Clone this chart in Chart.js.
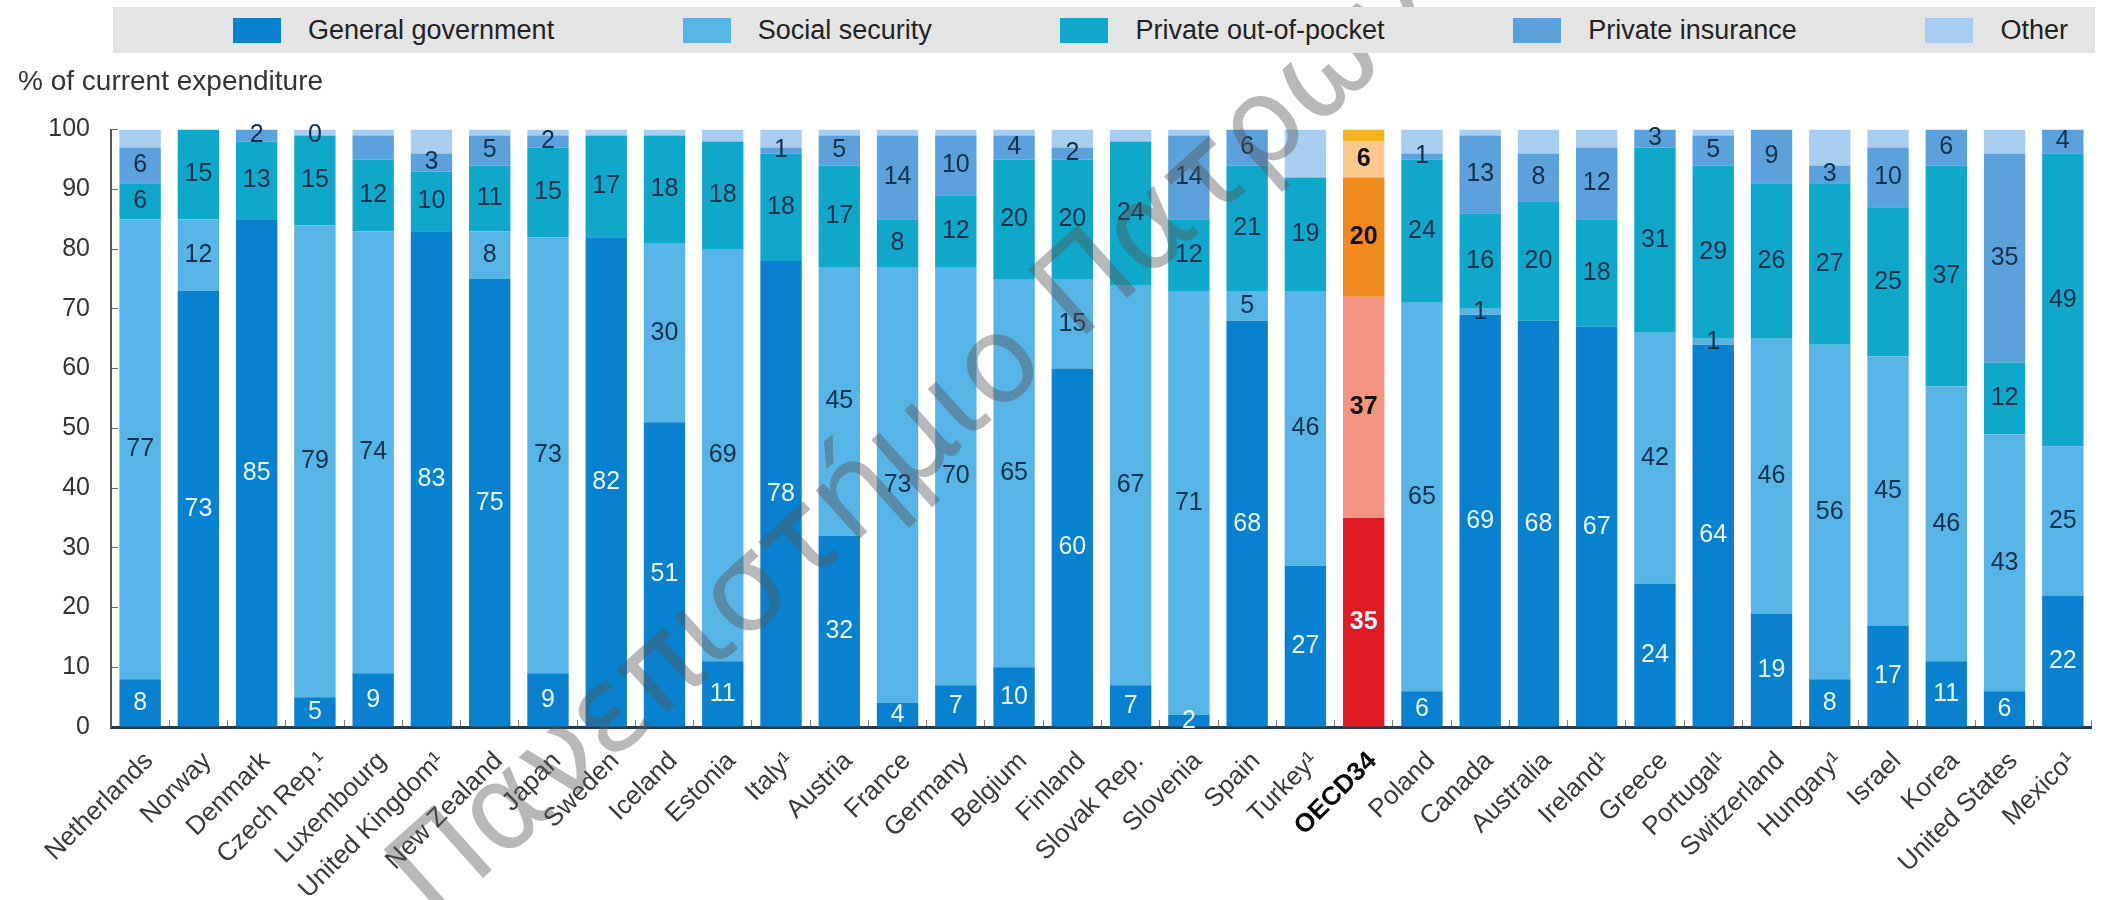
<!DOCTYPE html>
<html>
<head>
<meta charset="utf-8">
<script src="https://cdn.jsdelivr.net/npm/chart.js@4/dist/chart.umd.min.js"></script>
<style>
  body { margin: 0; background: #fff; }
  #wrap { position: relative; width: 2111px; height: 900px; }
  #legend {
    position: absolute; left: 113px; top: 7px; width: 1982px; height: 46px;
    box-sizing: border-box; padding: 0 27px 0 120px;
    background: #e4e4e4;
    display: flex; align-items: center; justify-content: space-between;
    font: 27px "Liberation Sans", Arial, sans-serif; color: #222;
  }
  #legend .item { display: flex; align-items: center; }
  #legend .swatch { display: inline-block; width: 48px; height: 25px; margin-right: 27px; }
</style>
</head>
<body>
<div id="wrap">
  <canvas id="financeChart" width="2111" height="900"></canvas>
  <div id="legend"></div>
</div>
<script>
const countries = ['Netherlands', 'Norway', 'Denmark', 'Czech Rep.¹', 'Luxembourg', 'United Kingdom¹',
  'New Zealand', 'Japan', 'Sweden', 'Iceland', 'Estonia', 'Italy¹', 'Austria', 'France', 'Germany',
  'Belgium', 'Finland', 'Slovak Rep.', 'Slovenia', 'Spain', 'Turkey¹', 'OECD34', 'Poland', 'Canada',
  'Australia', 'Ireland¹', 'Greece', 'Portugal¹', 'Switzerland', 'Hungary¹', 'Israel', 'Korea',
  'United States', 'Mexico¹'];

const seriesNames = ['General government', 'Social security', 'Private out-of-pocket', 'Private insurance', 'Other'];

// % of current health expenditure by source (null = no segment)
const generalGov  = [8, 73, 85, 5, 9, 83, 75, 9, 82, 51, 11, 78, 32, 4, 7, 10, 60, 7, 2, 68, 27, 35, 6, 69, 68, 67, 24, 64, 19, 8, 17, 11, 6, 22];
const socialSec   = [77, 12, null, 79, 74, null, 8, 73, null, 30, 69, null, 45, 73, 70, 65, 15, 67, 71, 5, 46, 37, 65, 1, null, null, 42, 1, 46, 56, 45, 46, 43, 25];
const outOfPocket = [6, 15, 13, 15, 12, 10, 11, 15, 17, 18, 18, 18, 17, 8, 12, 20, 20, 24, 12, 21, 19, 20, 24, 16, 20, 18, 31, 29, 26, 27, 25, 37, 12, 49];
const privateIns  = [6, null, 2, 0, 4, 3, 5, 2, null, null, null, 1, 5, 14, 10, 4, 2, null, 14, 6, null, 6, 1, 13, 8, 12, 3, 5, 9, 3, 10, 6, 35, 4];
const otherSrc    = [3, null, null, 1, 1, 4, 1, 1, 1, 1, 2, 3, 1, 1, 1, 1, 3, 2, 1, null, 8, 2, 4, 1, 4, 3, null, 1, null, 6, 3, null, 4, null];

const seriesColors = ['#0a81ce', '#57b4e6', '#10a8ca', '#5ba2dc', '#a9cdef'];
const oecdColors   = ['#e11b22', '#f5957f', '#f08a1d', '#fbc98c', '#f2b51e'];

// segments that carry no value label
const unlabelled = [{ series: 3, country: 'Luxembourg' }];

const oecdIndex = countries.indexOf('OECD34');
const seriesValues = [generalGov, socialSec, outOfPocket, privateIns, otherSrc];

Chart.defaults.font.family = '"Liberation Sans", Arial, sans-serif';

const htmlLegend = {
  id: 'htmlLegend',
  afterUpdate(chart) {
    const box = document.getElementById('legend');
    box.innerHTML = '';
    chart.data.datasets.forEach((ds, i) => {
      const item = document.createElement('div');
      item.className = 'item';
      const sw = document.createElement('span');
      sw.className = 'swatch';
      sw.style.background = seriesColors[i];
      const txt = document.createElement('span');
      txt.textContent = ds.label;
      item.append(sw, txt);
      box.append(item);
    });
  }
};

const segmentLabels = {
  id: 'segmentLabels',
  afterDatasetsDraw(chart) {
    const ctx = chart.ctx;
    ctx.save();
    ctx.textAlign = 'center';
    ctx.textBaseline = 'middle';
    for (let s = 0; s < 4; s++) {
      const meta = chart.getDatasetMeta(s);
      meta.data.forEach((bar, j) => {
        const v = chart.data.datasets[s].data[j];
        if (v === null) return;
        if (unlabelled.some(u => u.series === s && u.country === countries[j])) return;
        const isOecd = j === oecdIndex;
        ctx.font = (isOecd ? 'bold ' : '') + '25px "Liberation Sans", Arial, sans-serif';
        if (s === 0) ctx.fillStyle = '#e8f6ff';
        else ctx.fillStyle = isOecd ? '#111' : '#10304d';
        ctx.fillText(String(v), bar.x, (bar.y + bar.base) / 2);
      });
    }
    ctx.restore();
  }
};

const watermark = {
  id: 'watermark',
  afterDraw(chart) {
    const ctx = chart.ctx;
    ctx.save();
    ctx.translate(915, 447);
    ctx.rotate(-42 * Math.PI / 180);
    ctx.font = '120px "DejaVu Sans", sans-serif';
    ctx.fillStyle = 'rgba(85, 85, 85, 0.42)';
    ctx.textAlign = 'center';
    ctx.textBaseline = 'middle';
    ctx.fillText('Πανεπιστήμιο Πατρών', 0, 0);
    ctx.restore();
  }
};

new Chart(document.getElementById('financeChart'), {
  type: 'bar',
  data: {
    labels: countries,
    datasets: seriesNames.map((name, i) => ({
      label: name,
      data: seriesValues[i],
      backgroundColor: countries.map((c, j) => j === oecdIndex ? oecdColors[i] : seriesColors[i]),
      barPercentage: 0.71,
      categoryPercentage: 1,
      stack: 'total'
    }))
  },
  options: {
    responsive: false,
    animation: false,
    devicePixelRatio: 1,
    layout: { padding: { top: 65, left: 18, right: 8, bottom: 0 } },
    plugins: {
      legend: { display: false },
      tooltip: { enabled: false },
      title: {
        display: true,
        text: '% of current expenditure',
        align: 'start',
        color: '#333',
        font: { size: 28, weight: 'normal' },
        padding: { top: 0, bottom: 31 }
      }
    },
    scales: {
      x: {
        stacked: true,
        afterFit: scale => { scale.height = 173; },
        grid: { drawOnChartArea: false, tickLength: -7, color: '#8a7a70' },
        border: { color: '#2a3b4c', width: 3 },
        ticks: {
          autoSkip: false,
          maxRotation: 45,
          minRotation: 45,
          padding: 26,
          labelOffset: 9,
          color: ctx => ctx.index === oecdIndex ? '#000' : '#3a3a3a',
          font: ctx => ({ size: 26, weight: ctx.index === oecdIndex ? 'bold' : 'normal' })
        }
      },
      y: {
        stacked: true,
        min: 0,
        max: 100,
        afterFit: scale => { scale.width = 93; },
        grid: { drawOnChartArea: false, tickLength: -7, color: '#666' },
        border: { color: '#555', width: 2 },
        ticks: { stepSize: 10, padding: 28, color: '#333', font: { size: 25 } }
      }
    }
  },
  plugins: [htmlLegend, segmentLabels, watermark]
});
</script>
</body>
</html>
